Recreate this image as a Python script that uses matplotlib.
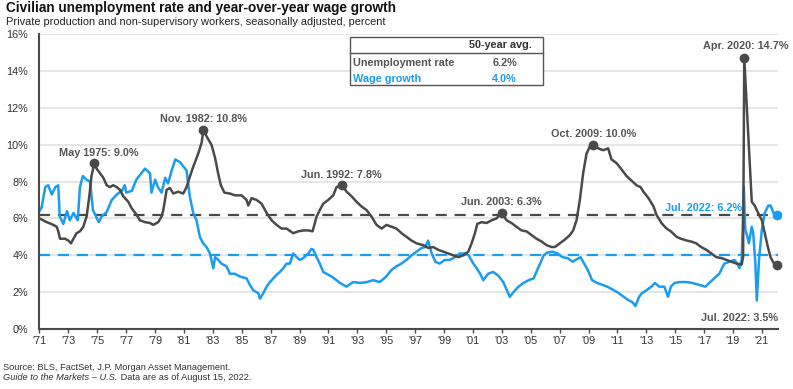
import matplotlib
matplotlib.use("Agg")
import matplotlib.pyplot as plt
from matplotlib.lines import Line2D

plt.rcParams['font.family'] = ['Liberation Sans', 'DejaVu Sans']

# ---------------- data ----------------
unemp_dates = [1971.5, 1972.0, 1972.46, 1972.69, 1972.8, 1972.92, 1973.26, 1973.5, 1973.68, 1973.85,
               1974.07, 1974.3, 1974.53, 1974.76, 1974.95, 1975.1, 1975.3, 1975.45, 1975.69, 1975.92,
               1976.15, 1976.38, 1976.6, 1976.84, 1977.07, 1977.3, 1977.65, 1977.88, 1978.22, 1978.45,
               1978.8, 1979.15, 1979.38, 1979.72, 1979.95, 1980.07, 1980.3, 1980.53, 1980.76, 1981.1,
               1981.45, 1981.68, 1981.9, 1982.14, 1982.48, 1982.72, 1982.85, 1983.1, 1983.4, 1983.65,
               1983.85, 1984.05, 1984.3, 1984.68, 1985.03, 1985.49, 1985.83, 1985.95, 1986.18, 1986.53,
               1986.87, 1987.22, 1987.56, 1987.91, 1988.26, 1988.6, 1989.06, 1989.41, 1989.76, 1990.1,
               1990.4, 1990.68, 1990.9, 1991.14, 1991.48, 1991.83, 1992.06, 1992.42, 1992.76, 1993.1,
               1993.45, 1993.79, 1994.14, 1994.48, 1994.83, 1995.18, 1995.52, 1995.87, 1996.21, 1996.56,
               1996.91, 1997.25, 1997.6, 1998.06, 1998.41, 1998.75, 1999.1, 1999.45, 1999.79, 2000.14,
               2000.49, 2000.83, 2001.18, 2001.41, 2001.64, 2001.8, 2002.1, 2002.44, 2002.79, 2003.13,
               2003.48, 2003.83, 2004.17, 2004.52, 2004.86, 2005.21, 2005.56, 2005.9, 2006.25, 2006.6,
               2006.94, 2007.17, 2007.52, 2007.86, 2008.21, 2008.44, 2008.67, 2008.9, 2009.13, 2009.36,
               2009.59, 2009.82, 2010.17, 2010.52, 2010.86, 2011.09, 2011.44, 2011.79, 2012.13, 2012.48,
               2012.82, 2013.1, 2013.3, 2013.65, 2014.0, 2014.2, 2014.55, 2014.9, 2015.2, 2015.6,
               2015.9, 2016.3, 2016.6, 2016.95, 2017.3, 2017.65, 2018.0, 2018.35, 2018.7, 2019.05,
               2019.4, 2019.75, 2020.1, 2020.2, 2020.28, 2020.8, 2021.0, 2021.3, 2021.5, 2021.7,
               2021.9, 2022.1, 2022.3, 2022.55]
unemp_vals = [6.0, 5.8, 5.65, 5.55, 5.3, 4.9, 4.9, 4.8, 4.65, 4.9,
              5.2, 5.3, 5.55, 6.1, 7.2, 8.3, 9.0, 8.7, 8.45, 8.2,
              7.8, 7.7, 7.8, 7.7, 7.55, 7.2, 6.9, 6.55, 6.2, 5.9,
              5.8, 5.75, 5.65, 5.8, 6.1, 6.45, 7.55, 7.65, 7.35, 7.45,
              7.35, 7.7, 8.25, 8.8, 9.5, 10.1, 10.8, 10.4, 10.0, 9.3,
              8.5, 7.8, 7.4, 7.35, 7.25, 7.25, 7.0, 6.7, 7.1, 7.0,
              6.8, 6.3, 5.9, 5.65, 5.45, 5.45, 5.2, 5.3, 5.35, 5.35,
              5.3, 6.1, 6.45, 6.8, 7.0, 7.25, 7.7, 7.8, 7.45, 7.2,
              6.9, 6.65, 6.45, 6.1, 5.65, 5.45, 5.65, 5.55, 5.45, 5.2,
              5.0, 4.8, 4.65, 4.55, 4.4, 4.45, 4.3, 4.2, 4.1, 4.0,
              3.9, 4.0, 4.2, 4.65, 5.2, 5.7, 5.8, 5.75, 5.9, 6.0,
              6.3, 5.9, 5.75, 5.55, 5.35, 5.3, 5.1, 4.9, 4.75, 4.55,
              4.45, 4.45, 4.65, 4.85, 5.1, 5.35, 5.9, 7.0, 8.45, 9.5,
              9.9, 10.0, 9.8, 9.7, 9.8, 9.2, 9.0, 8.65, 8.3, 8.05,
              7.8, 7.7, 7.45, 7.1, 6.65, 6.2, 5.75, 5.45, 5.3, 5.0,
              4.9, 4.8, 4.75, 4.65, 4.45, 4.3, 4.1, 3.9, 3.85, 3.75,
              3.65, 3.55, 3.5, 3.9, 14.7, 6.9, 6.7, 6.2, 5.9, 5.2,
              4.5, 3.9, 3.6, 3.5]

wage_dates = [1971.5, 1971.65, 1971.9, 1972.1, 1972.35, 1972.6, 1972.8, 1972.9, 1973.15, 1973.4,
              1973.6, 1973.85, 1974.15, 1974.3, 1974.5, 1974.75, 1975.0, 1975.2, 1975.6, 1975.8,
              1976.15, 1976.5, 1976.85, 1977.2, 1977.4, 1977.5, 1977.9, 1978.2, 1978.55, 1978.8,
              1979.15, 1979.25, 1979.5, 1979.7, 1979.95, 1980.2, 1980.4, 1980.65, 1980.9, 1981.22,
              1981.68, 1981.9, 1982.14, 1982.37, 1982.6, 1982.83, 1983.06, 1983.3, 1983.53, 1983.65,
              1983.88, 1984.1, 1984.45, 1984.68, 1985.03, 1985.37, 1985.83, 1986.06, 1986.3, 1986.64,
              1986.76, 1986.99, 1987.22, 1987.45, 1987.68, 1987.91, 1988.14, 1988.37, 1988.6, 1988.83,
              1989.06, 1989.3, 1989.53, 1989.76, 1990.1, 1990.33, 1990.45, 1990.68, 1990.9, 1991.14,
              1991.37, 1991.72, 1992.06, 1992.3, 1992.75, 1993.2, 1993.7, 1994.15, 1994.6, 1995.05,
              1995.5, 1995.85, 1996.2, 1996.55, 1996.9, 1997.25, 1997.6, 1997.95, 1998.2, 1998.4,
              1998.65, 1998.9, 1999.2, 1999.55, 1999.9, 2000.25, 2000.6, 2000.95, 2001.2, 2001.53,
              2001.76, 2002.0, 2002.22, 2002.55, 2002.9, 2003.25, 2003.6, 2003.85, 2004.05, 2004.3,
              2004.65, 2005.0, 2005.35, 2005.7, 2005.95, 2006.15, 2006.4, 2006.65, 2007.0, 2007.35,
              2007.7, 2008.05, 2008.4, 2008.6, 2008.95, 2009.2, 2009.45, 2009.75, 2010.1, 2010.45,
              2010.8, 2011.15, 2011.5, 2011.85, 2012.2, 2012.55, 2012.75, 2013.0, 2013.2, 2013.5,
              2013.85, 2014.1, 2014.4, 2014.75, 2015.0, 2015.2, 2015.45, 2015.8, 2016.25, 2016.7,
              2017.15, 2017.6, 2017.85, 2018.2, 2018.55, 2018.9, 2019.25, 2019.6, 2019.8, 2019.95,
              2020.1, 2020.25, 2020.35, 2020.5, 2020.6, 2020.8, 2020.9, 2021.05, 2021.15, 2021.3,
              2021.5, 2021.7, 2021.95, 2022.1, 2022.3, 2022.55]
wage_vals = [6.4, 6.6, 7.7, 7.8, 7.3, 7.7, 7.8, 6.1, 5.7, 6.4,
             5.9, 6.3, 5.9, 7.7, 8.3, 8.1, 8.0, 6.45, 5.8, 6.1,
             6.35, 7.0, 7.3, 7.5, 7.8, 7.4, 7.5, 8.1, 8.45, 8.7,
             8.45, 7.4, 8.1, 7.7, 7.4, 8.2, 7.9, 8.6, 9.2, 9.05,
             8.6, 7.2, 6.3, 5.9, 5.0, 4.65, 4.45, 4.1, 3.3, 3.9,
             3.75, 3.55, 3.4, 3.0, 3.0, 2.85, 2.75, 2.4, 2.1, 1.95,
             1.65, 1.95, 2.3, 2.55, 2.75, 2.95, 3.1, 3.3, 3.55, 3.55,
             4.1, 3.9, 3.75, 3.85, 4.1, 4.35, 4.3, 3.9, 3.55, 3.1,
             3.0, 2.85, 2.65, 2.5, 2.3, 2.55, 2.5, 2.55, 2.65, 2.55,
             2.85, 3.2, 3.4, 3.55, 3.75, 4.0, 4.2, 4.4, 4.45, 4.8,
             4.1, 3.65, 3.55, 3.75, 3.75, 3.9, 4.1, 4.1, 4.0, 3.55,
             3.3, 3.0, 2.65, 3.0, 3.1, 2.9, 2.55, 2.1, 1.75, 2.0,
             2.3, 2.5, 2.65, 2.75, 3.2, 3.55, 4.0, 4.15, 4.2, 4.1,
             3.9, 3.85, 3.65, 3.75, 3.9, 3.55, 3.2, 2.65, 2.5, 2.4,
             2.3, 2.15, 2.0, 1.8, 1.6, 1.45, 1.25, 1.75, 1.95, 2.1,
             2.3, 2.5, 2.3, 2.3, 1.75, 2.3, 2.5, 2.55, 2.55, 2.5,
             2.4, 2.3, 2.5, 2.75, 3.0, 3.55, 3.65, 3.75, 3.55, 3.3,
             3.75, 7.7, 5.4, 5.0, 4.65, 5.55, 5.2, 3.55, 1.55, 3.75,
             5.4, 6.3, 6.7, 6.7, 6.3, 6.2]

unemp_avg = 6.2
wage_avg = 4.0

tick_years = list(range(1971, 2022, 2))
tick_labels = ["'%02d" % (y % 100) for y in tick_years]

peak_labels = ["May 1975: 9.0%", "Nov. 1982: 10.8%", "Jun. 1992: 7.8%",
               "Jun. 2003: 6.3%", "Oct. 2009: 10.0%", "Apr. 2020: 14.7%"]
peak_dates = [1975.3, 1982.85, 1992.42, 2003.48, 2009.82, 2020.28]
peak_vals = [9.0, 10.8, 7.8, 6.3, 10.0, 14.7]

# ---------------- styling ----------------
GRAY = '#4a4a4a'
BLUE = '#1a9cf0'
TXT = '#555555'
FS = 7.8

fig = plt.figure(figsize=(7.93, 3.89), dpi=100)
ax = fig.add_axes([0.0498, 0.154, 0.931, 0.7586])

ax.set_xlim(1971.5, 2022.6)
ax.set_ylim(0, 16)

for v in range(2, 17, 2):
    ax.axhline(v, color='#e6e6e6', lw=1.5, zorder=0)

ax.axhline(unemp_avg, color=GRAY, lw=1.6, ls=(0, (5, 3.5)), zorder=1)
ax.axhline(wage_avg, color=BLUE, lw=1.6, ls=(0, (5, 3.5)), zorder=1)

ax.plot(unemp_dates, unemp_vals, color=GRAY, lw=1.8, zorder=3, solid_joinstyle='round')
ax.plot(wage_dates, wage_vals, color=BLUE, lw=1.8, zorder=2, solid_joinstyle='round')

ax.plot(peak_dates, peak_vals, 'o', color=GRAY, ms=6, zorder=4, clip_on=False)
ax.plot([unemp_dates[-1]], [unemp_vals[-1]], 'o', color=GRAY, ms=6, zorder=4, clip_on=False)
ax.plot([wage_dates[-1]], [wage_vals[-1]], 'o', color=BLUE, ms=6, zorder=4, clip_on=False)

# peak annotations, offset in points from the markers
offsets = [(3, 7.5), (0, 8), (0, 7.5), (0, 8), (0, 8), (1, 8.5)]
for lab, d, v, off in zip(peak_labels, peak_dates, peak_vals, offsets):
    ax.annotate(lab, (d, v), xytext=off, textcoords='offset points', ha='center', va='center',
                fontsize=FS, fontweight='bold', color=TXT, annotation_clip=False)

ax.annotate("Jul. 2022: %.1f%%" % wage_vals[-1], (2020.1, unemp_avg), xytext=(0, 5),
            textcoords='offset points', ha='right', va='center',
            fontsize=FS, fontweight='bold', color=BLUE)
ax.annotate("Jul. 2022: %.1f%%" % unemp_vals[-1], (2022.6, 0.6), xytext=(0, 0),
            textcoords='offset points', ha='right', va='center',
            fontsize=FS, fontweight='bold', color=TXT, annotation_clip=False)

# axes style
for s in ['top', 'right']:
    ax.spines[s].set_visible(False)
ax.spines['left'].set_color(GRAY)
ax.spines['bottom'].set_color(GRAY)
ax.spines['left'].set_linewidth(1.5)
ax.spines['bottom'].set_linewidth(1.5)

ax.set_xticks([y + 0.5 for y in tick_years])
ax.set_xticklabels(tick_labels)
ax.set_yticks(range(0, 17, 2))
ax.set_yticklabels(['%d%%' % v for v in range(0, 17, 2)])
ax.tick_params(axis='x', length=3, width=1, color=GRAY, labelsize=7.8, labelcolor='#333333', pad=2)
ax.tick_params(axis='y', length=0, labelsize=7.8, labelcolor='#333333', pad=8)

# 50-year average table
tx0, tx1 = 0.4205, 0.6818   # axes fraction
ty0, ty1 = 0.827, 0.9898
ax.add_patch(plt.Rectangle((tx0, ty0), tx1 - tx0, ty1 - ty0, transform=ax.transAxes,
                           fill=True, facecolor='white', edgecolor='#555555', lw=1.0, zorder=5))
ax.add_line(Line2D([tx0, tx1], [0.9356, 0.9356], transform=ax.transAxes, color='#555555', lw=1.0, zorder=6))
ax.text(0.6236, 0.963, "50-year avg.", transform=ax.transAxes, ha='center', va='center',
        fontsize=FS, fontweight='bold', color='#333333', zorder=7)
ax.text(0.4245, 0.9017, "Unemployment rate", transform=ax.transAxes, ha='left', va='center',
        fontsize=FS, fontweight='bold', color=TXT, zorder=7)
ax.text(0.630, 0.9017, "%.1f%%" % unemp_avg, transform=ax.transAxes, ha='center', va='center',
        fontsize=FS, fontweight='bold', color=TXT, zorder=7)
ax.text(0.4245, 0.8475, "Wage growth", transform=ax.transAxes, ha='left', va='center',
        fontsize=FS, fontweight='bold', color=BLUE, zorder=7)
ax.text(0.630, 0.8475, "%.1f%%" % wage_avg, transform=ax.transAxes, ha='center', va='center',
        fontsize=FS, fontweight='bold', color=BLUE, zorder=7)

# titles
fig.text(0.008, 0.979, "Civilian unemployment rate and year-over-year wage growth",
         ha='left', va='center', fontsize=9.8, fontweight='bold', color='#111111')
fig.text(0.008, 0.944, "Private production and non-supervisory workers, seasonally adjusted, percent",
         ha='left', va='center', fontsize=7.9, color='#222222')

# source
fig.text(0.004, 0.055, "Source: BLS, FactSet, J.P. Morgan Asset Management.",
         ha='left', va='center', fontsize=6.7, color='#333333')
t1 = fig.text(0.004, 0.030, "Guide to the Markets \u2013 U.S.", ha='left', va='center',
              fontsize=6.7, color='#333333', style='italic')
fig.canvas.draw()
bb = t1.get_window_extent(renderer=fig.canvas.get_renderer())
x_next = bb.x1 / fig.bbox.width
fig.text(x_next, 0.030, " Data are as of August 15, 2022.", ha='left', va='center',
         fontsize=6.7, color='#333333')

fig.savefig('out.png', dpi=100)
